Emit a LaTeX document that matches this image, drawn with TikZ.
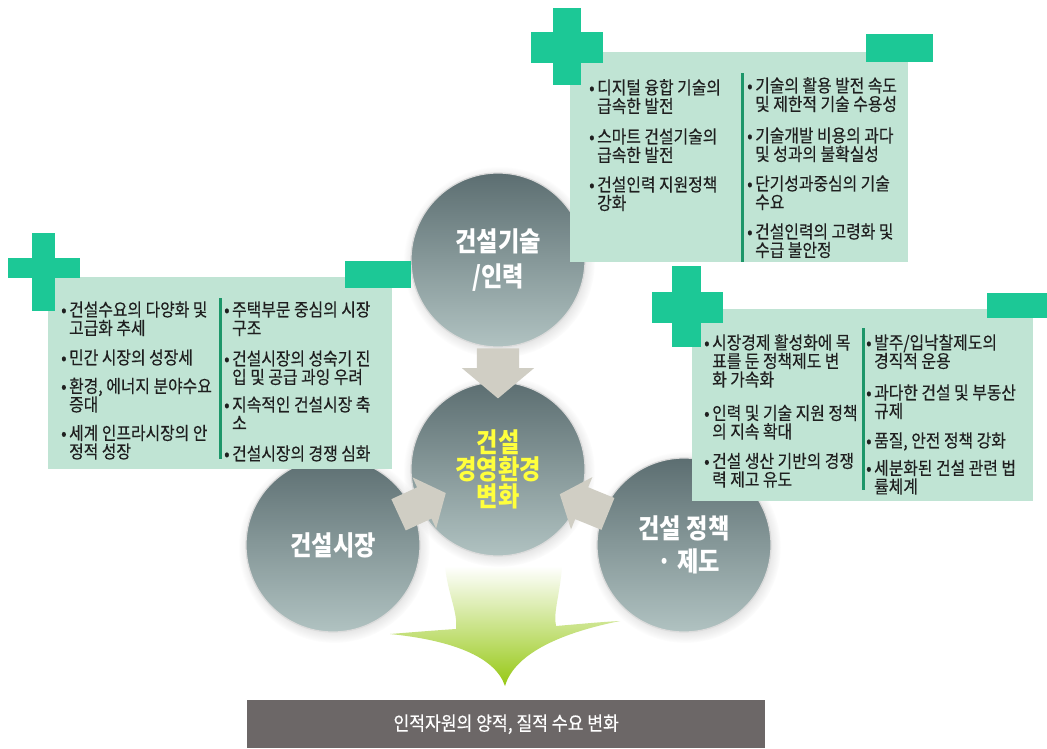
\documentclass[tikz,border=0pt]{standalone}
\usepackage{fontspec}
\setmainfont{Noto Sans CJK KR}
\newfontfamily\kr[FakeStretch=0.86]{Noto Sans CJK KR}
\newfontfamily\krc[FakeStretch=0.88,FakeBold=0.3]{Noto Sans CJK KR}
\usetikzlibrary{shapes.arrows,shadows}
\definecolor{boxg}{RGB}{192,228,212}
\definecolor{plusg}{RGB}{28,200,150}
\definecolor{divg}{RGB}{28,150,105}
\definecolor{circtop}{RGB}{92,110,113}
\definecolor{circbot}{RGB}{176,194,193}
\definecolor{arrowc}{RGB}{208,206,196}
\definecolor{barc}{RGB}{108,103,103}
\definecolor{limeg}{RGB}{150,200,20}
\definecolor{limem}{RGB}{215,240,110}
\definecolor{ctext}{RGB}{255,255,60}
\newcommand\bu{\makebox[8pt][l]{•}}
\newcommand\ind{\hspace*{8pt}}
\newcommand\fr{\rule{0pt}{16pt}}
\lineskiplimit=-20pt
\tikzset{
  circ/.style={circle, minimum size=174pt, inner sep=0pt, top color=circtop, bottom color=circbot,
    draw=white!72!gray, line width=1.2pt, text=white, align=center,
    font=\kr\bfseries\fontsize{27}{33}\selectfont,
    circular drop shadow={shadow xshift=1pt, shadow yshift=-2pt, opacity=0.25}},
  topar/.style={single arrow, fill=arrowc, draw=none, minimum height=50pt, inner xsep=0pt,
    inner ysep=21pt, single arrow head extend=15pt, single arrow tip angle=100},
  sidear/.style={single arrow, fill=arrowc, draw=none, minimum height=52pt, inner xsep=0pt,
    inner ysep=17pt, single arrow head extend=11pt, single arrow tip angle=100},
  infobox/.style={fill=boxg, draw=none, anchor=north west, inner sep=0pt},
  col/.style={anchor=north west, inner sep=0pt, align=left,
    font=\krc\fontsize{18}{18.5}\selectfont, text=black!88},
  greenbar/.style={fill=plusg, draw=none},
  divline/.style={divg, line width=3pt}
}
\begin{document}
\begin{tikzpicture}[x=1pt,y=-1pt]
\useasboundingbox (0,0) rectangle (1047,748);
\fill[white] (0,0) rectangle (1047,748);

% big green arrow
\shade[top color=white, middle color=limem, bottom color=limeg]
  (445,566) -- (562,566)
  .. controls (560,595) and (553,612) .. (556,626)
  .. controls (580,624) and (600,622) .. (620,621)
  .. controls (565,632) and (515,652) .. (505,686)
  .. controls (495,656) and (450,640) .. (390,634)
  .. controls (415,632) and (440,630) .. (456,629)
  .. controls (458,612) and (448,595) .. (445,566) -- cycle;

% circles
\node[circ] (tech) at (498,260) {건설기술\\[2pt]/인력};
\node[circ] (market) at (333,545) {건설시장};
\node[circ] (policy) at (684,545) {건설 정책\\\hspace*{10pt}· 제도};
\node[circ, text=ctext, font=\kr\bfseries\fontsize{27}{27}\selectfont] (core) at (498,469) {건설\\경영환경\\변화};

% connectors
\path (tech) -- (core) node[pos=0.5, sloped, allow upside down, topar] (a1) {};
\path (market) -- (core) node[pos=0.52, sloped, allow upside down, sidear] (a2) {};
\path (policy) -- (core) node[pos=0.52, sloped, allow upside down, sidear] (a3) {};

% boxes
\node[infobox, minimum width=338pt, minimum height=210pt] (trbox) at (570,52) {};
\node[infobox, minimum width=344pt, minimum height=192pt] (lbox) at (48,277) {};
\node[infobox, minimum width=341pt, minimum height=192pt] (rbox) at (692,309) {};

\draw[divline] (742,73) -- (742,262);
\draw[divline] (220,298) -- (220,459);
\draw[divline] (863,328) -- (863,490);

% top-right texts
\node[col] (tr1) at (589,78) {\fr\bu 디지털 융합 기술의\\\ind 급속한 발전\\[12pt]\bu 스마트 건설기술의\\\ind 급속한 발전\\[11pt]\bu 건설인력 지원정책\\\ind 강화};
\node[col] (tr2) at (747,76) {\fr\bu 기술의 활용 발전 속도\\\ind 및 제한적 기술 수용성\\[13pt]\bu 기술개발 비용의 과다\\\ind 및 성과의 불확실성\\[11pt]\bu 단기성과중심의 기술\\\ind 수요\\[11pt]\bu 건설인력의 고령화 및\\\ind 수급 불안정};

% left texts
\node[col] (l1) at (61,300) {\fr\bu 건설수요의 다양화 및\\\ind 고급화 추세\\[11pt]\bu 민간 시장의 성장세\\[10pt]\bu 환경, 에너지 분야수요\\\ind 증대\\[10pt]\bu 세계 인프라시장의 안\\\ind 정적 성장};
\node[col] (l2) at (224,300) {\fr\bu 주택부문 중심의 시장\\\ind 구조\\[12pt]\bu 건설시장의 성숙기 진\\\ind 입 및 공급 과잉 우려\\[9pt]\bu 지속적인 건설시장 축\\\ind 소\\[12pt]\bu 건설시장의 경쟁 심화};

% right texts
\node[col] (r1) at (704,333) {\fr\bu 시장경제 활성화에 목\\\ind 표를 둔 정책제도 변\\\ind 화 가속화\\[15pt]\bu 인력 및 기술 지원 정책\\\ind 의 지속 확대\\[11pt]\bu 건설 생산 기반의 경쟁\\\ind 력 제고 유도};
\node[col] (r2) at (866,333) {\fr\bu 발주/입낙찰제도의\\\ind 경직적 운용\\[13pt]\bu 과다한 건설 및 부동산\\\ind 규제\\[11pt]\bu 품질, 안전 정책 강화\\[9pt]\bu 세분화된 건설 관련 법\\\ind 률체계};

% plus / minus signs
\fill[greenbar] (553,8) rectangle (581,85);
\fill[greenbar] (531,32) rectangle (603,63);
\fill[greenbar] (866,34) rectangle (933,62);

\fill[greenbar] (32,233) rectangle (55,311);
\fill[greenbar] (8,258) rectangle (80,278);
\fill[greenbar] (345,261) rectangle (411,288);

\fill[greenbar] (672,266) rectangle (701,347);
\fill[greenbar] (652,292) rectangle (723,323);
\fill[greenbar] (987,293) rectangle (1047,318);

% result bar
\node[fill=barc, anchor=north west, minimum width=518pt, minimum height=48pt, inner sep=0pt,
  text=white, font=\krc\fontsize{19.5}{24}\selectfont] (result) at (247,700) {인적자원의 양적, 질적 수요 변화};
\end{tikzpicture}
\end{document}
